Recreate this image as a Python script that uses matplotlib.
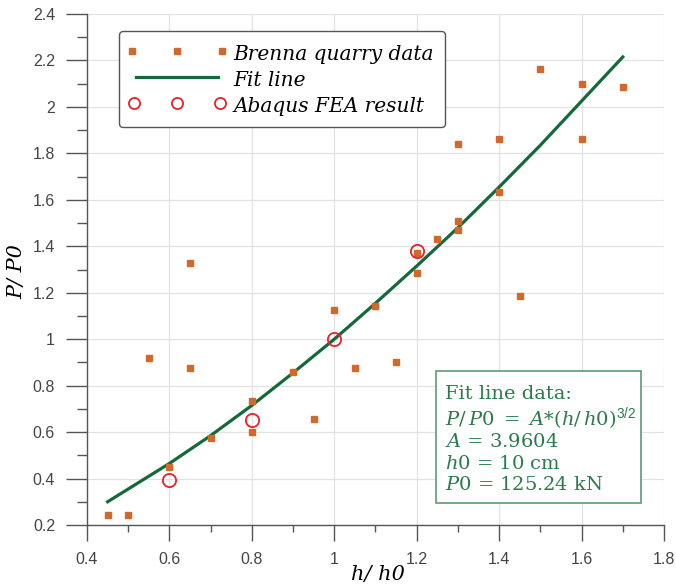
import numpy as np
import matplotlib
matplotlib.use('Agg')
import matplotlib.pyplot as plt
from matplotlib.patches import Rectangle
from matplotlib.legend_handler import HandlerLine2D

# ------------------- data -------------------
quarry_x = [0.45, 0.50, 0.55, 0.60, 0.65, 0.65, 0.70, 0.80, 0.80, 0.90,
            0.95, 1.00, 1.05, 1.10, 1.15, 1.20, 1.20, 1.25, 1.30, 1.30,
            1.30, 1.40, 1.40, 1.45, 1.50, 1.60, 1.60, 1.70]
quarry_y = [0.245, 0.245, 0.92, 0.45, 1.33, 0.875, 0.575, 0.735, 0.60, 0.86,
            0.655, 1.125, 0.875, 1.145, 0.90, 1.285, 1.37, 1.43, 1.51, 1.47,
            1.84, 1.86, 1.635, 1.185, 2.165, 2.10, 1.86, 2.085]

fit_x = [0.45, 0.50, 0.60, 0.70, 0.80, 0.90, 1.00, 1.10, 1.20, 1.30,
         1.40, 1.50, 1.60, 1.70]
fit_y = [0.30, 0.355, 0.465, 0.585, 0.715, 0.855, 1.00, 1.155, 1.315, 1.48,
         1.655, 1.835, 2.025, 2.215]

fea_x = [0.6, 0.8, 1.0, 1.2]
fea_y = [0.395, 0.65, 1.00, 1.38]

x_ticks = [0.4, 0.6, 0.8, 1.0, 1.2, 1.4, 1.6, 1.8]
x_ticklabels = ['0.4', '0.6', '0.8', '1', '1.2', '1.4', '1.6', '1.8']
y_ticks = [0.2, 0.4, 0.6, 0.8, 1.0, 1.2, 1.4, 1.6, 1.8, 2.0, 2.2, 2.4]
y_ticklabels = ['0.2', '0.4', '0.6', '0.8', '1', '1.2', '1.4', '1.6', '1.8', '2', '2.2', '2.4']

info_lines = [
    'Fit line data:',
    r'$\mathit{P/\,P0\ =\ A}$*$\mathit{(h/\,h0)}^{\mathsf{3/2}}$',
    r'$\mathit{A}$ = 3.9604',
    r'$\mathit{h0}$ = 10 cm',
    r'$\mathit{P0}$ = 125.24 kN',
]

# ------------------- style -------------------
plt.rcParams['mathtext.fontset'] = 'custom'
plt.rcParams['mathtext.rm'] = 'DejaVu Serif'
plt.rcParams['mathtext.it'] = 'DejaVu Serif:italic'
plt.rcParams['mathtext.sf'] = 'Liberation Sans'

orange = '#d2692c'
green = '#14693a'
txt_green = '#2a7a4c'
red = '#e8202a'
spine_c = '#555555'

fig = plt.figure(figsize=(6.76, 5.85), dpi=100)
ax = fig.add_axes([87 / 676, 60 / 585, 577 / 676, 511 / 585])

ln, = ax.plot(fit_x, fit_y, color=green, lw=2.3, zorder=3, label='Fit line')
sq, = ax.plot(quarry_x, quarry_y, ls='none', marker='s', ms=5, color=orange,
              mec=orange, zorder=4, label='Brenna quarry data')
cc, = ax.plot(fea_x, fea_y, ls='none', marker='o', ms=9.5, mfc='none', mec=red,
              mew=1.3, zorder=5, label='Abaqus FEA result')

ax.set_xlim(0.4, 1.8)
ax.set_ylim(0.2, 2.4)
ax.set_xticks(x_ticks)
ax.set_xticklabels(x_ticklabels)
ax.set_yticks(y_ticks)
ax.set_yticklabels(y_ticklabels)
ax.set_xticks(np.arange(0.5, 1.8, 0.2), minor=True)
ax.set_yticks(np.arange(0.3, 2.4, 0.2), minor=True)

ax.grid(True, which='major', color='#e2e2e2', lw=0.9, zorder=0)
ax.set_axisbelow(True)
for s in ['top', 'right']:
    ax.spines[s].set_visible(False)
for s in ['left', 'bottom']:
    ax.spines[s].set_color(spine_c)
    ax.spines[s].set_linewidth(1.0)

ax.tick_params(axis='x', which='major', direction='out', length=11.5, width=1,
               color=spine_c, pad=8, labelsize=11.5, labelcolor='#444444')
ax.tick_params(axis='x', which='minor', direction='out', length=5, width=1, color=spine_c)
ax.tick_params(axis='y', which='major', direction='out', length=15, width=1,
               color=spine_c, pad=8, labelsize=11.5, labelcolor='#444444')
ax.tick_params(axis='y', which='minor', direction='out', length=7, width=1, color=spine_c)
for lab in ax.get_xticklabels() + ax.get_yticklabels():
    lab.set_family('Liberation Sans')

fig.text(378 / 676, 1 - 574 / 585, 'h/ h0', family='DejaVu Serif', style='italic',
         fontsize=15, ha='center', va='center')
fig.text(17 / 676, 1 - 272 / 585, 'P/ P0', family='DejaVu Serif', style='italic',
         fontsize=15, ha='center', va='center', rotation=90)

leg = ax.legend(handles=[sq, ln, cc], loc='upper left', bbox_to_anchor=(0.055, 0.967),
                borderaxespad=0, numpoints=3, handlelength=4.7, handletextpad=0.45,
                handleheight=1.3, labelspacing=0.2, borderpad=0.55, fancybox=True,
                framealpha=1, edgecolor='#555555',
                handler_map={sq: HandlerLine2D(marker_pad=0.1),
                             cc: HandlerLine2D(marker_pad=0.2)},
                prop={'family': 'DejaVu Serif', 'style': 'italic', 'size': 14.5})
leg.get_frame().set_linewidth(1.0)
leg.legend_handles[2].set_markersize(8)

# info box
ax.add_patch(Rectangle((0.604, 0.043), 0.356, 0.258, transform=ax.transAxes,
                       facecolor='white', edgecolor='#5e9a78', lw=1.2, zorder=6))
line_y = [0.256, 0.209, 0.162, 0.120, 0.078]
for yy, t in zip(line_y, info_lines):
    ax.text(0.621, yy, t, transform=ax.transAxes, color=txt_green, fontsize=14,
            family='DejaVu Serif', ha='left', va='center', zorder=7)

fig.savefig('out.png', dpi=100)
